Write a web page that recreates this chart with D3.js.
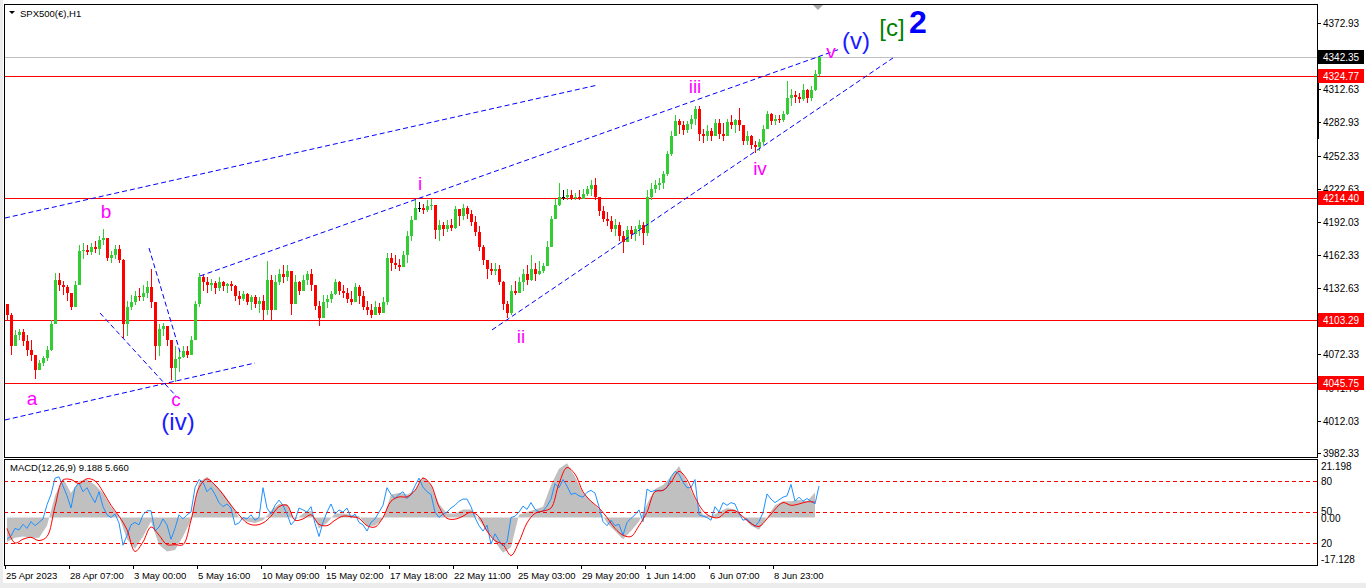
<!DOCTYPE html>
<html>
<head>
<meta charset="utf-8">
<script src="https://cdn.jsdelivr.net/npm/d3@7"></script>
<style>
html, body { margin: 0; padding: 0; background: #fff; overflow: hidden; }
svg { display: block; font-family: "Liberation Sans", Arial, sans-serif; }
</style>
</head>
<body>
<div id="chart"></div>
<script>
// SPX500 H1 bars, grouped 4 hours per candle (open = previous close)
const firstOpen = 4118;
const highs = [
  4118,4110,4094,4095,4095,4090,4085,4071,4067,4071,
  4080,4103,4146,4146,4139,4135,4126,4139,4171,4173,
  4171,4173,4175,4180,4186,4175,4166,4171,4171,4159,
  4121,4126,4130,4132,4135,4139,4150,4120,4100,4101,
  4098,4085,4080,4076,4080,4080,4089,4121,4146,4144,
  4142,4141,4139,4142,4139,4137,4139,4135,4130,4130,
  4128,4126,4126,4124,4126,4157,4144,4144,4150,4153,
  4153,4135,4144,4139,4144,4148,4150,4130,4121,4126,
  4126,4130,4141,4139,4135,4132,4130,4137,4135,4130,
  4121,4118,4121,4119,4124,4164,4164,4162,4159,4166,
  4184,4198,4212,4210,4209,4212,4213,4207,4194,4192,
  4194,4195,4207,4203,4209,4207,4203,4198,4189,4171,
  4157,4155,4155,4153,4139,4121,4135,4139,4142,4150,
  4153,4162,4155,4157,4155,4175,4198,4213,4228,4221,
  4222,4221,4219,4221,4222,4225,4230,4232,4212,4207,
  4201,4198,4195,4192,4184,4189,4189,4189,4194,4192,
  4221,4228,4230,4232,4239,4257,4275,4289,4286,4284,
  4284,4289,4298,4298,4277,4280,4278,4286,4286,4282,
  4286,4289,4286,4296,4280,4275,4271,4266,4268,4280,
  4293,4291,4289,4289,4293,4320,4313,4311,4309,4318,
  4313,4316,4330,4343
];
const lows = [
  4103,4072,4080,4085,4080,4071,4066,4050,4060,4062,
  4066,4075,4100,4130,4126,4121,4112,4117,4135,4159,
  4162,4162,4164,4162,4171,4157,4155,4159,4155,4087,
  4089,4112,4117,4121,4121,4123,4114,4067,4071,4089,
  4080,4049,4047,4056,4069,4069,4074,4085,4115,4130,
  4128,4130,4127,4130,4130,4128,4130,4121,4117,4121,
  4117,4112,4114,4110,4103,4108,4103,4117,4135,4137,
  4139,4108,4121,4126,4130,4135,4130,4112,4098,4112,
  4114,4119,4126,4126,4123,4119,4117,4121,4118,4112,
  4108,4105,4108,4108,4112,4117,4148,4150,4148,4152,
  4155,4175,4194,4201,4200,4201,4203,4177,4175,4180,
  4183,4184,4186,4189,4194,4195,4189,4180,4166,4153,
  4141,4144,4144,4135,4112,4105,4108,4126,4128,4130,
  4135,4139,4139,4144,4146,4153,4171,4195,4207,4212,
  4212,4212,4212,4212,4213,4216,4216,4212,4198,4192,
  4189,4183,4180,4175,4164,4175,4177,4175,4180,4171,
  4180,4212,4219,4221,4222,4234,4252,4271,4272,4271,
  4273,4277,4280,4266,4264,4266,4266,4271,4268,4266,
  4273,4277,4273,4275,4262,4262,4259,4255,4257,4262,
  4277,4280,4280,4282,4283,4289,4298,4300,4300,4302,
  4300,4302,4311,4325
];
const closes = [
  4108,4080,4090,4092,4084,4076,4072,4058,4064,4069,
  4076,4100,4140,4135,4133,4128,4115,4135,4166,4167,
  4165,4170,4168,4176,4178,4160,4162,4168,4158,4100,
  4115,4120,4125,4124,4128,4133,4120,4080,4095,4098,
  4085,4060,4068,4070,4075,4072,4085,4118,4142,4138,
  4135,4137,4132,4138,4134,4136,4134,4125,4122,4127,
  4120,4124,4118,4121,4112,4140,4112,4138,4145,4142,
  4148,4118,4138,4130,4140,4145,4135,4116,4105,4120,
  4122,4127,4138,4130,4128,4122,4120,4133,4125,4115,
  4112,4108,4115,4110,4120,4160,4155,4153,4151,4162,
  4180,4194,4205,4205,4203,4207,4208,4185,4190,4186,
  4190,4187,4204,4198,4205,4200,4192,4183,4170,4158,
  4150,4148,4150,4138,4118,4110,4130,4128,4138,4145,
  4140,4150,4145,4148,4152,4170,4195,4208,4215,4215,
  4217,4214,4215,4213,4218,4222,4226,4215,4202,4195,
  4193,4186,4190,4180,4174,4185,4181,4186,4190,4182,
  4215,4222,4226,4228,4236,4254,4270,4284,4280,4276,
  4281,4286,4295,4272,4270,4275,4270,4282,4272,4270,
  4283,4280,4285,4280,4266,4270,4262,4260,4265,4277,
  4290,4284,4286,4285,4290,4305,4308,4306,4304,4312,
  4305,4312,4327,4342
];

// MACD panel: histogram and signal sampled every 2 candles, fast line every candle
const histVals = [
  -9,-7.5,-7,-7.5,-7.5,-3,8,14.5,9,13.5,
  14,12,9,4,0.5,-8,-11.5,-7,-1.5,-10,
  -12.5,-12,-7,-1,13,15,12,9,5,0,
  -1.5,-2,-1,2.5,5,5,-1,1.5,2.5,-4,
  -2,1.5,1.5,1,0.5,-3,-3,-0.5,8.5,9,
  8.5,10,15,12,5,1.5,1.5,3,3,-1,
  -5,-9,-13,-11,1,2,3,4,12,18,
  20,15,9,6,3,-2,-5,-8,-5,-1.5,
  5,10.5,12,15,19,13,7,1,0.5,2,
  3.5,3,0,-3,-4.5,0,4.5,6,6,6.5,
  6,9.188
];
const signalVals = [
  -4,-9.4,-8,-7.3,-8.5,-7,4,13.8,14,12.5,
  14.3,13.5,9.5,4.5,0.5,-4.5,-12.5,-9,-3.5,-6.5,
  -10,-10,-10,-1,11,14.2,12,8.5,4.5,1,
  -2,-2.8,-2,0.5,4,4.5,-1,-0.5,1,-2.5,
  -3,-1,0.5,0.3,-0.3,-3,-3.5,0,6,7.6,
  7.6,10,14.5,12,4,-0.3,-0.6,0.5,2,0.3,
  -5,-8.5,-10,-14,-9,-2,1.5,2.4,3.5,12.5,
  18.4,16,9.5,6,3.5,0,-4,-6.5,-7,-3,
  2,9.5,10,13,17,14,7.5,2.5,0.3,0,
  2.4,2.5,0.3,-2.2,-3.3,-0.5,3,5.5,4.5,5,
  5.8,5.66
];
const fastVals = [
  -8,-6.8,-4,-4.6,-2.5,-4,-1.5,-3,-1.8,-0.5,
  4.7,8.5,14.5,15,11.6,8,3.5,11,12.7,9.5,
  11,8,5.5,9.5,4,1,0,1.3,-2,-10.2,
  -6.6,-2.7,-1.8,-2.7,1,2.5,2.5,-5,-3.5,-0.5,
  -2.7,-8,-4,1,-0.5,1,2,11,14,13,
  9.5,11,8.5,5.5,4,5,3.5,-2.7,-2,0,
  -0.5,1,-1,0,11,3.5,1.3,4.5,6.4,4.5,
  1.3,-2.7,-1,3.5,2.8,2,4,-2.2,-7,-1.8,
  2,5,1.3,2.8,2,3.5,0,1.3,-1.8,-2.7,
  -5,-1.8,-0.5,2,4.5,11,8.5,7,8.5,9.5,
  7,8.5,11.7,14.5,11.2,9.5,8.5,2,0,1.3,
  2,3.5,4.5,6,6.8,6.8,4,0,-3,-5,
  -2.8,-9.8,-6,-8.5,-10.5,-9,0,0.5,2,4.2,
  3,5.5,3,2,2.4,4.2,6.8,12.5,11,14,
  11.6,8.5,9,8,7.5,9.3,10,9,4,-1.5,
  -3,-1,-3,-2.5,-6.5,-1.8,-0.3,1,2.8,-1.5,
  10.5,9.5,10,10,10,11,15,17,16,13,
  11,11,14,1,0.5,0,-1,4,2,5.5,
  4.5,5.5,5,1.5,-1,-0.5,-2,-3.3,-1.5,1.8,
  8.7,6.8,5.5,6.5,7.5,8,12.2,6,7.5,6,
  7,6,5,11.6
];
const macdLevels = [80, 50, 20];
const macdMax = 21.198, macdMin = -17.128;

// axes
const priceTicks = [4372.93, 4312.63, 4282.93, 4252.33, 4222.63, 4192.03, 4162.33,
                    4132.63, 4072.33, 4041.75, 4012.03, 3982.33];
const levelPrices = [4324.77, 4214.40, 4103.29, 4045.75];
const bidPrice = 4342.35;
const dateIdx = [0, 16, 32, 48, 64, 80, 96, 112, 128, 144, 160, 176, 192];
const dateLabels = ["25 Apr 2023", "28 Apr 07:00", "3 May 00:00", "5 May 16:00", "10 May 09:00",
  "15 May 02:00", "17 May 18:00", "22 May 11:00", "25 May 03:00", "29 May 20:00",
  "1 Jun 14:00", "6 Jun 07:00", "8 Jun 23:00"];

// wave count annotations (candle index, price)
const trendLines = [
  [[0, 4195.9], [148.25, 4316.7]],
  [[48.75, 4143.3], [208.75, 4349.3]],
  [[121.75, 4094.3], [222, 4341.2]],
  [[0, 4012.6], [62.5, 4064.3]],
  [[23.75, 4109.7], [43, 4033.4]],
  [[36, 4168.7], [43.75, 4074.3]]
];
const waveLabels = [
  {t: "a", i: 6.75, p: 4026.2, color: "#ff00ff", size: 19},
  {t: "b", i: 25.25, p: 4195.9, color: "#ff00ff", size: 19},
  {t: "c", i: 42.75, p: 4025.0, color: "#ff00ff", size: 19},
  {t: "(iv)", i: 43.25, p: 4003.5, color: "#1a1aff", size: 24},
  {t: "i", i: 103.75, p: 4221.4, color: "#ff00ff", size: 19},
  {t: "ii", i: 129, p: 4082.5, color: "#ff00ff", size: 19},
  {t: "iii", i: 172.5, p: 4309.4, color: "#ff00ff", size: 19},
  {t: "iv", i: 188.75, p: 4235.0, color: "#ff00ff", size: 19},
  {t: "v", i: 206.5, p: 4341.2, color: "#ff00ff", size: 19},
  {t: "(v)", i: 212.75, p: 4349.4, color: "#1a1aff", size: 24},
  {t: "[c]", i: 221.75, p: 4361.2, color: "#008000", size: 24},
  {t: "2", i: 228.25, p: 4363.9, color: "#0000ff", size: 32, bold: true}
];

const W = 1366, H = 588;
const LEFT = 4, RIGHT = 1317, TOP = 4, MAIN_BOTTOM = 457, SUB_TOP = 459, SUB_BOTTOM = 565;

const x = d3.scaleLinear().domain([0, 204]).range([5, 821]);
const y = d3.scaleLinear().domain([3982.33, 4372.93]).range([453.3, 23]);
const yM = d3.scaleLinear().domain([macdMin, macdMax]).range([564, 460]);
const yL = d3.scaleLinear().domain([0, 100]).range([564, 460]);

const svg = d3.select("#chart").append("svg")
    .attr("width", W)
    .attr("height", H)
    .attr("viewBox", [0, 0, W, H]);

svg.append("rect").attr("width", W).attr("height", H).attr("fill", "#fff");
svg.append("rect").attr("x", 0).attr("y", 0).attr("width", 3).attr("height", H).attr("fill", "#ececec");
svg.append("rect").attr("x", 0).attr("y", 583).attr("width", W).attr("height", 5).attr("fill", "#ececec");

const defs = svg.append("defs");
defs.append("clipPath").attr("id", "clip-main")
    .append("rect").attr("x", LEFT + 1).attr("y", TOP + 1)
    .attr("width", RIGHT - LEFT - 1).attr("height", MAIN_BOTTOM - TOP - 1);
defs.append("clipPath").attr("id", "clip-sub")
    .append("rect").attr("x", LEFT + 1).attr("y", SUB_TOP + 1)
    .attr("width", RIGHT - LEFT - 1).attr("height", SUB_BOTTOM - SUB_TOP - 1);

const main = svg.append("g").attr("clip-path", "url(#clip-main)");

// bid line and horizontal levels
main.append("line")
    .attr("x1", LEFT).attr("x2", RIGHT)
    .attr("y1", Math.round(y(bidPrice)) + 0.5).attr("y2", Math.round(y(bidPrice)) + 0.5)
    .attr("stroke", "#c0c0c0");
main.append("g").selectAll("line")
    .data(levelPrices)
    .join("line")
    .attr("x1", LEFT).attr("x2", RIGHT)
    .attr("y1", d => Math.round(y(d)) + 0.5).attr("y2", d => Math.round(y(d)) + 0.5)
    .attr("stroke", "#ff0000");

// candles
const candles = closes.map((c, i) => {
    const o = i ? closes[i - 1] : firstOpen;
    return {i, o, c, h: Math.max(highs[i], o, c), l: Math.min(lows[i], o, c)};
});
const candleColor = d => d.c > d.o ? "#32cd32" : (d.c < d.o ? "#ff0000" : "#000000");

const cg = main.append("g").attr("shape-rendering", "crispEdges");
cg.selectAll("rect.wick")
    .data(candles)
    .join("rect")
    .attr("class", "wick")
    .attr("x", d => Math.round(x(d.i + 0.5)))
    .attr("width", 1)
    .attr("y", d => y(d.h))
    .attr("height", d => Math.max(1, y(d.l) - y(d.h)))
    .attr("fill", candleColor);
cg.selectAll("rect.body")
    .data(candles)
    .join("rect")
    .attr("class", "body")
    .attr("x", d => Math.round(x(d.i + 0.5)) - 1)
    .attr("width", 3)
    .attr("y", d => y(Math.max(d.o, d.c)))
    .attr("height", d => Math.max(1, Math.abs(y(d.o) - y(d.c))))
    .attr("fill", candleColor);

// trend lines
main.append("g")
    .attr("fill", "none")
    .attr("stroke", "#0000ff")
    .attr("stroke-width", 1)
    .attr("stroke-dasharray", "5,3")
    .selectAll("path")
    .data(trendLines)
    .join("path")
    .attr("d", d => d3.line().x(p => x(p[0])).y(p => y(p[1]))(d));

// wave labels
svg.append("g").selectAll("text")
    .data(waveLabels)
    .join("text")
    .attr("x", d => x(d.i))
    .attr("y", d => y(d.p))
    .attr("text-anchor", "middle")
    .attr("fill", d => d.color)
    .attr("font-size", d => d.size)
    .attr("font-weight", d => d.bold ? "bold" : "normal")
    .attr("font-family", "'Liberation Sans', Arial, sans-serif")
    .text(d => d.t);

// chart shift marker
svg.append("path")
    .attr("d", d3.line()([[x(203.25) - 5, TOP + 1], [x(203.25) + 5, TOP + 1], [x(203.25), TOP + 6]]))
    .attr("fill", "#a8a8a8");

// title
svg.append("path").attr("d", "M9,11L15,11L12,14Z").attr("fill", "#000");
svg.append("text").attr("x", 20).attr("y", 17)
    .attr("font-size", 9.5).attr("fill", "#000").text("SPX500(€),H1");

// MACD panel
const sub = svg.append("g").attr("clip-path", "url(#clip-sub)");
sub.append("path")
    .datum(histVals)
    .attr("fill", "#c0c0c0")
    .attr("d", d3.area()
        .x((d, k) => x(2 * k + 0.5))
        .y0(yM(0))
        .y1(d => yM(d)));
sub.append("g").selectAll("line")
    .data(macdLevels)
    .join("line")
    .attr("x1", LEFT).attr("x2", RIGHT)
    .attr("y1", d => Math.round(yL(d)) + 0.5).attr("y2", d => Math.round(yL(d)) + 0.5)
    .attr("stroke", "#ff0000")
    .attr("shape-rendering", "crispEdges")
    .attr("stroke-dasharray", "4,3");
sub.append("path")
    .datum(fastVals)
    .attr("fill", "none")
    .attr("stroke", "#1e90ff")
    .attr("stroke-width", 1)
    .attr("d", d3.line().x((d, i) => x(i + 0.5)).y(d => yM(d)));
sub.append("path")
    .datum(signalVals)
    .attr("fill", "none")
    .attr("stroke", "#ff0000")
    .attr("stroke-width", 1)
    .attr("d", d3.line().curve(d3.curveCatmullRom).x((d, k) => x(2 * k + 0.5)).y(d => yM(d)));

svg.append("text").attr("x", 10).attr("y", 471)
    .attr("font-size", 9.5).attr("fill", "#000")
    .text(`MACD(12,26,9) ${histVals[histVals.length - 1].toFixed(3)} ${signalVals[signalVals.length - 1].toFixed(3)}`);

// frames
svg.append("rect")
    .attr("x", LEFT + 0.5).attr("y", TOP + 0.5)
    .attr("width", RIGHT - LEFT).attr("height", MAIN_BOTTOM - TOP)
    .attr("fill", "none").attr("stroke", "#000").attr("shape-rendering", "crispEdges");
svg.append("rect")
    .attr("x", LEFT + 0.5).attr("y", SUB_TOP + 0.5)
    .attr("width", RIGHT - LEFT).attr("height", SUB_BOTTOM - SUB_TOP)
    .attr("fill", "none").attr("stroke", "#000").attr("shape-rendering", "crispEdges");
svg.append("rect").attr("x", RIGHT).attr("y", 83).attr("width", 2).attr("height", 56).attr("fill", "#000");

// price axis
const axisG = svg.append("g").attr("font-size", 10).attr("fill", "#000");
axisG.selectAll("line")
    .data(priceTicks)
    .join("line")
    .attr("x1", RIGHT).attr("x2", RIGHT + 4)
    .attr("y1", d => Math.round(y(d)) + 0.5).attr("y2", d => Math.round(y(d)) + 0.5)
    .attr("stroke", "#000");
axisG.selectAll("text")
    .data(priceTicks)
    .join("text")
    .attr("x", RIGHT + 6)
    .attr("y", d => y(d) + 4)
    .text(d => d.toFixed(2));

// level and bid price tags
const tags = levelPrices.map(p => ({p, bg: "#ff0000"})).concat([{p: bidPrice, bg: "#000000"}]);
const tagG = svg.append("g").selectAll("g")
    .data(tags)
    .join("g")
    .attr("transform", d => `translate(${RIGHT + 1},${Math.round(y(d.p))})`);
tagG.append("rect").attr("x", 0).attr("y", -7).attr("width", 46).attr("height", 14)
    .attr("fill", d => d.bg);
tagG.append("text").attr("x", 5).attr("y", 4)
    .attr("font-size", 10).attr("fill", "#fff")
    .text(d => d.p.toFixed(2));

// MACD axis
const subTicks = [
    {t: macdMax.toFixed(3), yy: yM(macdMax) + 6},
    {t: "80", yy: yL(80)},
    {t: "50", yy: yL(50) - 1},
    {t: "0.00", yy: yM(0)},
    {t: "20", yy: yL(20)},
    {t: macdMin.toFixed(3), yy: yM(macdMin) - 5}
];
svg.append("g").selectAll("text")
    .data(subTicks)
    .join("text")
    .attr("x", RIGHT + 4)
    .attr("y", d => d.yy + 4)
    .attr("font-size", 10)
    .attr("fill", "#000")
    .text(d => d.t);

// date axis
const dateG = svg.append("g");
dateG.selectAll("line")
    .data(dateIdx)
    .join("line")
    .attr("x1", d => Math.round(x(d)) + 0.5).attr("x2", d => Math.round(x(d)) + 0.5)
    .attr("y1", SUB_BOTTOM).attr("y2", SUB_BOTTOM + 4)
    .attr("stroke", "#000");
dateG.selectAll("text")
    .data(dateIdx)
    .join("text")
    .attr("x", d => x(d) + 1)
    .attr("y", 579)
    .attr("font-size", 9.5)
    .attr("fill", "#000")
    .text((d, k) => dateLabels[k]);
</script>
</body>
</html>
